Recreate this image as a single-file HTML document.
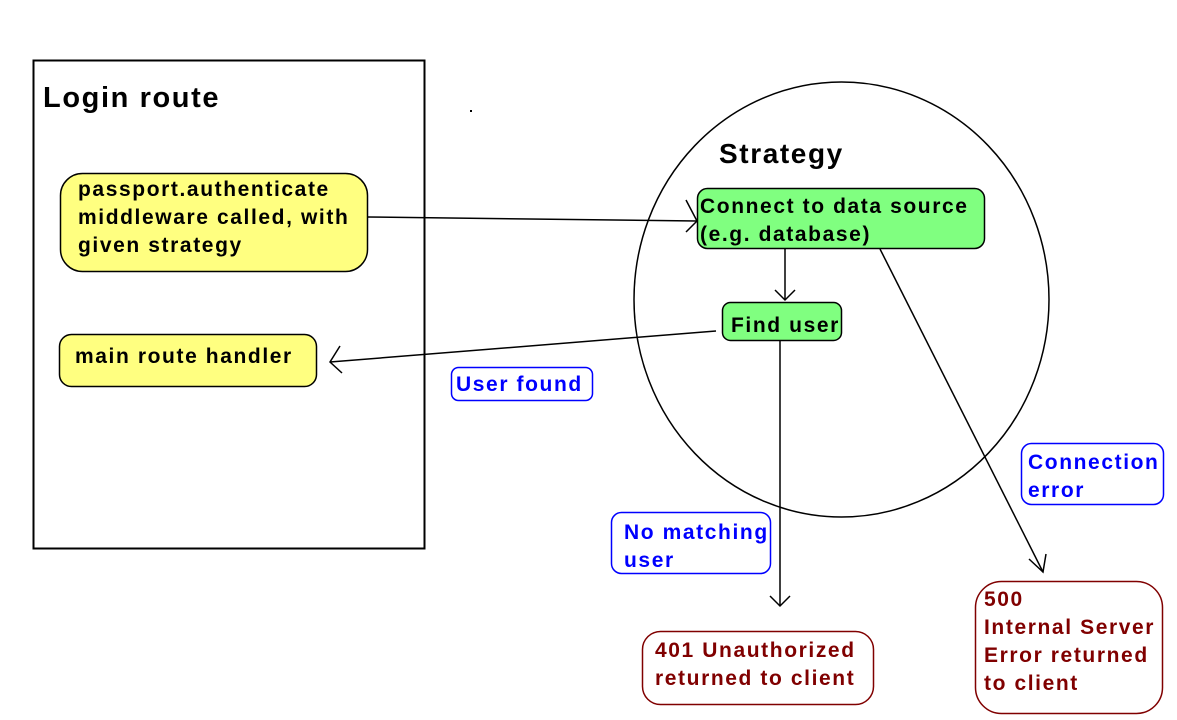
<!DOCTYPE html>
<html><head><meta charset="utf-8"><style>
html,body{margin:0;padding:0;background:#fff;width:1177px;height:720px;overflow:hidden}
svg text{font-family:"Liberation Sans","DejaVu Sans",sans-serif;font-weight:bold;letter-spacing:1.6px}
</style></head><body>
<svg width="1177" height="720" viewBox="0 0 1177 720" xmlns="http://www.w3.org/2000/svg">
<rect x="33.5" y="60.5" width="391" height="488" fill="#fff" stroke="#000" stroke-width="2"/>
<text x="43" y="107" font-size="29" style="letter-spacing:1.6px">Login route</text>
<rect x="470" y="110" width="2" height="2" fill="#000"/>
<ellipse cx="841.5" cy="299.5" rx="207.5" ry="217.5" fill="none" stroke="#000" stroke-width="1.5"/>
<text x="719" y="163" font-size="28" style="letter-spacing:1.6px">Strategy</text>
<rect x="60.5" y="173.5" width="307" height="98" rx="22" fill="#ffff80" stroke="#000" stroke-width="1.5"/>
<text font-size="21" x="78"><tspan x="78" y="196">passport.authenticate</tspan><tspan x="78" y="224">middleware called, with</tspan><tspan x="78" y="252">given strategy</tspan></text>
<rect x="59.5" y="334.5" width="257" height="52" rx="12" fill="#ffff80" stroke="#000" stroke-width="1.5"/>
<text font-size="21" x="75" y="363">main route handler</text>
<rect x="697.5" y="188.5" width="287" height="60" rx="10" fill="#80ff80" stroke="#000" stroke-width="1.5"/>
<text font-size="21"><tspan x="700" y="213">Connect to data source</tspan><tspan x="700" y="241">(e.g. database)</tspan></text>
<rect x="722.5" y="302.5" width="119" height="38" rx="8" fill="#80ff80" stroke="#000" stroke-width="1.5"/>
<text font-size="21" x="731" y="332">Find user</text>
<g fill="none" stroke="#000" stroke-width="1.5">
<line x1="367" y1="217" x2="697" y2="221"/><polyline points="686,200 697,221 686,232"/>
<line x1="785" y1="249" x2="785" y2="300"/><polyline points="775,290 785,300 795,290"/>
<line x1="716" y1="331" x2="330" y2="362"/><polyline points="340,346 330,362 342,373"/>
<line x1="780" y1="341" x2="780" y2="606"/><polyline points="770,596 780,606 790,596"/>
<line x1="880" y1="249" x2="1043" y2="572"/><polyline points="1029,559 1043,572 1046,554"/>
</g>
<g fill="#fff" stroke="#0000ff" stroke-width="1.5">
<rect x="451.5" y="367.5" width="141" height="33" rx="7"/>
<rect x="611.5" y="512.5" width="159" height="61" rx="10"/>
<rect x="1021.5" y="443.5" width="142" height="61" rx="10"/>
</g>
<g fill="#0000ff" font-size="21">
<text x="456" y="391">User found</text>
<text><tspan x="624" y="539">No matching</tspan><tspan x="624" y="567">user</tspan></text>
<text><tspan x="1028" y="469">Connection</tspan><tspan x="1028" y="497">error</tspan></text>
</g>
<g fill="#fff" stroke="#800000" stroke-width="1.5">
<rect x="642.5" y="631.5" width="231" height="73" rx="18"/>
<rect x="975.5" y="581.5" width="187" height="132" rx="26"/>
</g>
<g fill="#800000" font-size="21">
<text><tspan x="655" y="657">401 Unauthorized</tspan><tspan x="655" y="685">returned to client</tspan></text>
<text><tspan x="984" y="606">500</tspan><tspan x="984" y="634">Internal Server</tspan><tspan x="984" y="662">Error returned</tspan><tspan x="984" y="690">to client</tspan></text>
</g>
</svg>
</body></html>
